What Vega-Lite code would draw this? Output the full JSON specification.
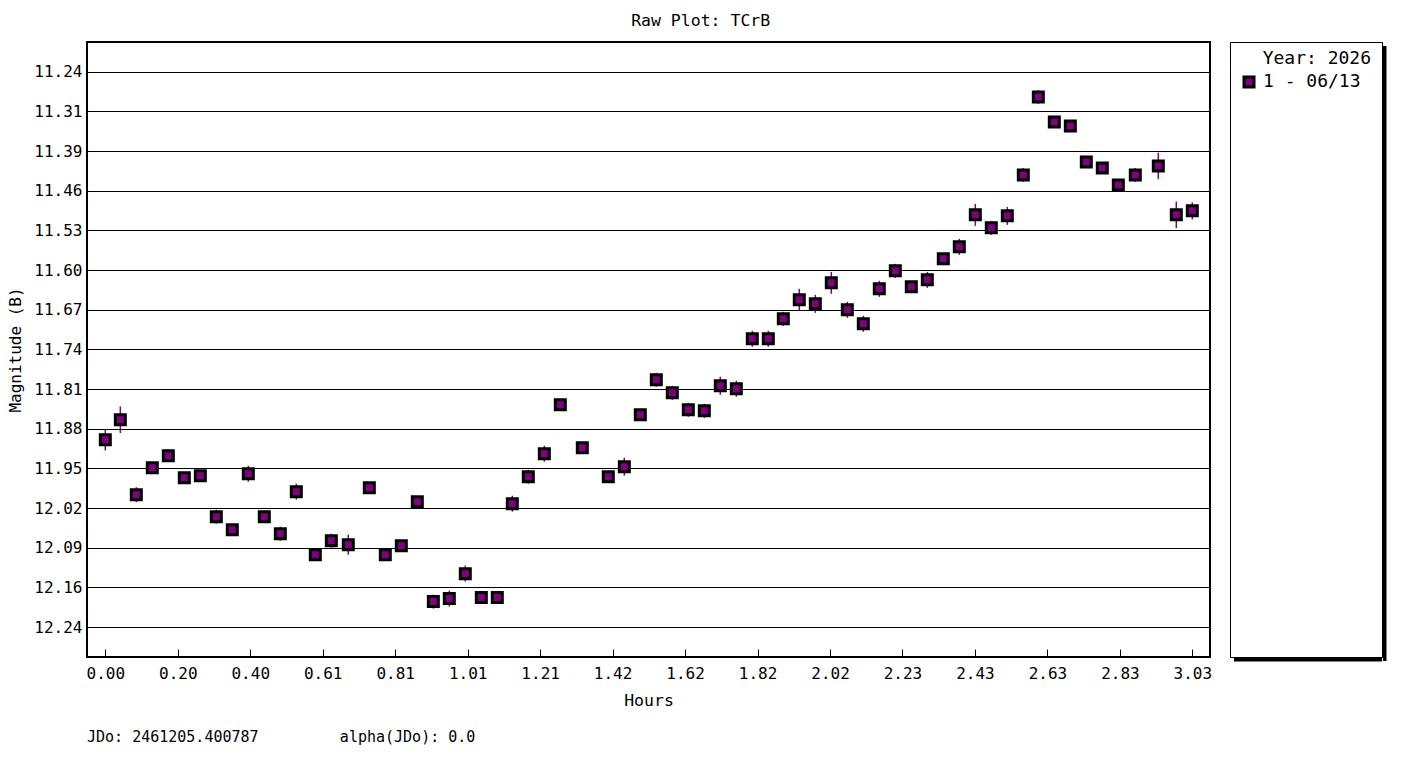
{
  "$schema": "https://vega.github.io/schema/vega-lite/v6.json",
  "background": "white",
  "padding": {"left": 6, "top": 12, "right": 14, "bottom": 18},
  "title": {
    "text": "Raw Plot: TCrB",
    "fontSize": 16.5,
    "fontWeight": "normal",
    "color": "black",
    "anchor": "middle",
    "offset": 12,
    "dx": 4
  },
  "spacing": 20,
  "bounds": "flush",
  "hconcat": [
    {
      "width": 1123,
      "height": 615,
      "view": {"stroke": "black", "strokeWidth": 2},
      "title": {
        "text": "JDo: 2461205.400787\u00a0\u00a0\u00a0\u00a0\u00a0\u00a0\u00a0\u00a0\u00a0alpha(JDo): 0.0",
        "orient": "bottom",
        "anchor": "start",
        "frame": "group",
        "fontSize": 15,
        "fontWeight": "normal",
        "color": "black",
        "offset": 21
      },
      "data": {
        "values": [
          {"h": 0.0, "m": 11.9027, "e": 0.0193, "s": "1 - 06/13"},
          {"h": 0.0419, "m": 11.8667, "e": 0.0239, "s": "1 - 06/13"},
          {"h": 0.0865, "m": 12.0016, "e": 0.0135, "s": "1 - 06/13"},
          {"h": 0.1311, "m": 11.953, "e": 0.009, "s": "1 - 06/13"},
          {"h": 0.1758, "m": 11.9314, "e": 0.006, "s": "1 - 06/13"},
          {"h": 0.2204, "m": 11.971, "e": 0.006, "s": "1 - 06/13"},
          {"h": 0.2651, "m": 11.9674, "e": 0.006, "s": "1 - 06/13"},
          {"h": 0.3097, "m": 12.0412, "e": 0.0126, "s": "1 - 06/13"},
          {"h": 0.3543, "m": 12.0646, "e": 0.006, "s": "1 - 06/13"},
          {"h": 0.399, "m": 11.9638, "e": 0.0144, "s": "1 - 06/13"},
          {"h": 0.4436, "m": 12.0412, "e": 0.006, "s": "1 - 06/13"},
          {"h": 0.4883, "m": 12.0718, "e": 0.0126, "s": "1 - 06/13"},
          {"h": 0.5329, "m": 11.9962, "e": 0.0144, "s": "1 - 06/13"},
          {"h": 0.5859, "m": 12.1096, "e": 0.006, "s": "1 - 06/13"},
          {"h": 0.6306, "m": 12.0844, "e": 0.0126, "s": "1 - 06/13"},
          {"h": 0.678, "m": 12.0916, "e": 0.018, "s": "1 - 06/13"},
          {"h": 0.7366, "m": 11.989, "e": 0.006, "s": "1 - 06/13"},
          {"h": 0.7812, "m": 12.1096, "e": 0.006, "s": "1 - 06/13"},
          {"h": 0.8259, "m": 12.0934, "e": 0.006, "s": "1 - 06/13"},
          {"h": 0.8705, "m": 12.0142, "e": 0.006, "s": "1 - 06/13"},
          {"h": 0.9152, "m": 12.1941, "e": 0.0126, "s": "1 - 06/13"},
          {"h": 0.9598, "m": 12.1887, "e": 0.0144, "s": "1 - 06/13"},
          {"h": 1.0044, "m": 12.1437, "e": 0.0144, "s": "1 - 06/13"},
          {"h": 1.0491, "m": 12.1869, "e": 0.006, "s": "1 - 06/13"},
          {"h": 1.0937, "m": 12.1869, "e": 0.006, "s": "1 - 06/13"},
          {"h": 1.1356, "m": 12.0178, "e": 0.0144, "s": "1 - 06/13"},
          {"h": 1.1802, "m": 11.9692, "e": 0.0126, "s": "1 - 06/13"},
          {"h": 1.2249, "m": 11.9278, "e": 0.0144, "s": "1 - 06/13"},
          {"h": 1.2695, "m": 11.8397, "e": 0.006, "s": "1 - 06/13"},
          {"h": 1.3309, "m": 11.917, "e": 0.006, "s": "1 - 06/13"},
          {"h": 1.4034, "m": 11.9692, "e": 0.006, "s": "1 - 06/13"},
          {"h": 1.4481, "m": 11.9512, "e": 0.0162, "s": "1 - 06/13"},
          {"h": 1.4927, "m": 11.8577, "e": 0.006, "s": "1 - 06/13"},
          {"h": 1.5373, "m": 11.7947, "e": 0.0126, "s": "1 - 06/13"},
          {"h": 1.582, "m": 11.8181, "e": 0.0126, "s": "1 - 06/13"},
          {"h": 1.6266, "m": 11.8487, "e": 0.0126, "s": "1 - 06/13"},
          {"h": 1.6713, "m": 11.8505, "e": 0.0126, "s": "1 - 06/13"},
          {"h": 1.7159, "m": 11.8055, "e": 0.0162, "s": "1 - 06/13"},
          {"h": 1.7606, "m": 11.8109, "e": 0.0144, "s": "1 - 06/13"},
          {"h": 1.8052, "m": 11.7209, "e": 0.0144, "s": "1 - 06/13"},
          {"h": 1.8498, "m": 11.7209, "e": 0.0144, "s": "1 - 06/13"},
          {"h": 1.8917, "m": 11.6849, "e": 0.0126, "s": "1 - 06/13"},
          {"h": 1.9363, "m": 11.6508, "e": 0.0198, "s": "1 - 06/13"},
          {"h": 1.981, "m": 11.658, "e": 0.0162, "s": "1 - 06/13"},
          {"h": 2.0256, "m": 11.6202, "e": 0.0198, "s": "1 - 06/13"},
          {"h": 2.0703, "m": 11.6688, "e": 0.0144, "s": "1 - 06/13"},
          {"h": 2.1149, "m": 11.6939, "e": 0.0144, "s": "1 - 06/13"},
          {"h": 2.1595, "m": 11.631, "e": 0.0144, "s": "1 - 06/13"},
          {"h": 2.2042, "m": 11.5986, "e": 0.0126, "s": "1 - 06/13"},
          {"h": 2.2488, "m": 11.6274, "e": 0.006, "s": "1 - 06/13"},
          {"h": 2.2935, "m": 11.6148, "e": 0.0144, "s": "1 - 06/13"},
          {"h": 2.3381, "m": 11.577, "e": 0.006, "s": "1 - 06/13"},
          {"h": 2.3827, "m": 11.5554, "e": 0.0144, "s": "1 - 06/13"},
          {"h": 2.4274, "m": 11.4978, "e": 0.0198, "s": "1 - 06/13"},
          {"h": 2.472, "m": 11.5212, "e": 0.0126, "s": "1 - 06/13"},
          {"h": 2.5167, "m": 11.4996, "e": 0.0162, "s": "1 - 06/13"},
          {"h": 2.5613, "m": 11.4259, "e": 0.0126, "s": "1 - 06/13"},
          {"h": 2.6032, "m": 11.2855, "e": 0.0126, "s": "1 - 06/13"},
          {"h": 2.6478, "m": 11.3305, "e": 0.006, "s": "1 - 06/13"},
          {"h": 2.6925, "m": 11.3377, "e": 0.006, "s": "1 - 06/13"},
          {"h": 2.7371, "m": 11.4025, "e": 0.006, "s": "1 - 06/13"},
          {"h": 2.7817, "m": 11.4133, "e": 0.006, "s": "1 - 06/13"},
          {"h": 2.8264, "m": 11.4439, "e": 0.006, "s": "1 - 06/13"},
          {"h": 2.8738, "m": 11.4259, "e": 0.0126, "s": "1 - 06/13"},
          {"h": 2.938, "m": 11.4097, "e": 0.0239, "s": "1 - 06/13"},
          {"h": 2.9882, "m": 11.4978, "e": 0.0239, "s": "1 - 06/13"},
          {"h": 3.0328, "m": 11.4906, "e": 0.0153, "s": "1 - 06/13"}
        ]
      },
      "encoding": {
        "x": {
          "field": "h",
          "type": "quantitative",
          "scale": {"domain": [-0.0511, 3.0822], "nice": false, "zero": false},
          "axis": {
            "title": "Hours",
            "values": [0, 0.2022, 0.4044, 0.6066, 0.8088, 1.011, 1.2132, 1.4154, 1.6176, 1.8198, 2.022, 2.2242, 2.4264, 2.6286, 2.8308, 3.033],
            "labelExpr": "['0.00','0.20','0.40','0.61','0.81','1.01','1.21','1.42','1.62','1.82','2.02','2.23','2.43','2.63','2.83','3.03'][round(datum.value / 0.2022)]",
            "grid": false,
            "domain": false,
            "ticks": true,
            "tickSize": -8,
            "tickColor": "black",
            "tickWidth": 1,
            "labelFontSize": 16,
            "labelPadding": 16,
            "labelFlush": false,
            "titleFontSize": 16.5,
            "titlePadding": 11
          }
        },
        "y": {
          "field": "m",
          "type": "quantitative",
          "scale": {"domain": [11.1866, 12.2938], "reverse": true, "nice": false, "zero": false},
          "axis": {
            "title": "Magnitude (B)",
            "values": [11.24, 11.3114, 11.3829, 11.4543, 11.5257, 11.5971, 11.6686, 11.74, 11.8114, 11.8829, 11.9543, 12.0257, 12.0971, 12.1686, 12.24],
            "labelExpr": "['11.24','11.31','11.39','11.46','11.53','11.60','11.67','11.74','11.81','11.88','11.95','12.02','12.09','12.16','12.24'][round((datum.value - 11.24) * 14)]",
            "grid": true,
            "gridColor": "black",
            "gridWidth": 1,
            "gridOpacity": 1,
            "domain": false,
            "ticks": false,
            "labelFontSize": 16,
            "labelPadding": 5,
            "titleFontSize": 16,
            "titlePadding": 10
          }
        }
      },
      "layer": [
        {
          "mark": {"type": "errorbar", "ticks": false, "color": "#800080", "thickness": 1.5},
          "encoding": {"yError": {"field": "e"}}
        },
        {
          "mark": {"type": "square", "filled": true, "size": 100, "stroke": "black", "strokeWidth": 3, "opacity": 1},
          "encoding": {
            "color": {
              "field": "s",
              "type": "nominal",
              "scale": {"range": ["#800080"]},
              "legend": {
                "title": null,
                "orient": "none",
                "legendX": 1153,
                "legendY": 31,
                "padding": 0,
                "symbolType": "square",
                "symbolSize": 100,
                "symbolStrokeColor": "black",
                "symbolStrokeWidth": 3,
                "symbolOpacity": 1,
                "labelOffset": 5,
                "labelFontSize": 18,
                "labelColor": "black"
              }
            }
          }
        }
      ]
    },
    {
      "spacing": 0,
      "bounds": "full",
      "hconcat": [
        {
          "spacing": 0,
          "bounds": "full",
          "vconcat": [
            {
              "width": 152,
              "height": 615,
              "title": {
                "text": "Year: 2026",
                "orient": "top",
                "anchor": "end",
                "fontSize": 18,
                "fontWeight": "normal",
                "color": "black",
                "offset": -26,
                "dx": -11
              },
              "view": {"stroke": "black", "strokeWidth": 1},
              "data": {"values": []},
              "mark": "text"
            },
            {
              "spacing": 0,
              "bounds": "full",
              "hconcat": [
                {"width": 4, "height": 3.5, "data": {"values": []}, "mark": "text"},
                {
                  "width": 148,
                  "height": 3.5,
                  "view": {"stroke": null, "fill": "black"},
                  "data": {"values": []},
                  "mark": "text"
                }
              ]
            }
          ]
        },
        {
          "spacing": 0,
          "bounds": "full",
          "vconcat": [
            {"width": 3.5, "height": 4, "data": {"values": []}, "mark": "text"},
            {
              "width": 3.5,
              "height": 615,
              "view": {"stroke": null, "fill": "black"},
              "data": {"values": []},
              "mark": "text"
            }
          ]
        }
      ]
    }
  ],
  "config": {
    "font": "DejaVu Sans Mono",
    "view": {"stroke": null},
    "axis": {"labelColor": "black", "titleColor": "black", "titleFontWeight": "normal"},
    "legend": {"labelFont": "DejaVu Sans Mono", "titleFont": "DejaVu Sans Mono"}
  }
}
